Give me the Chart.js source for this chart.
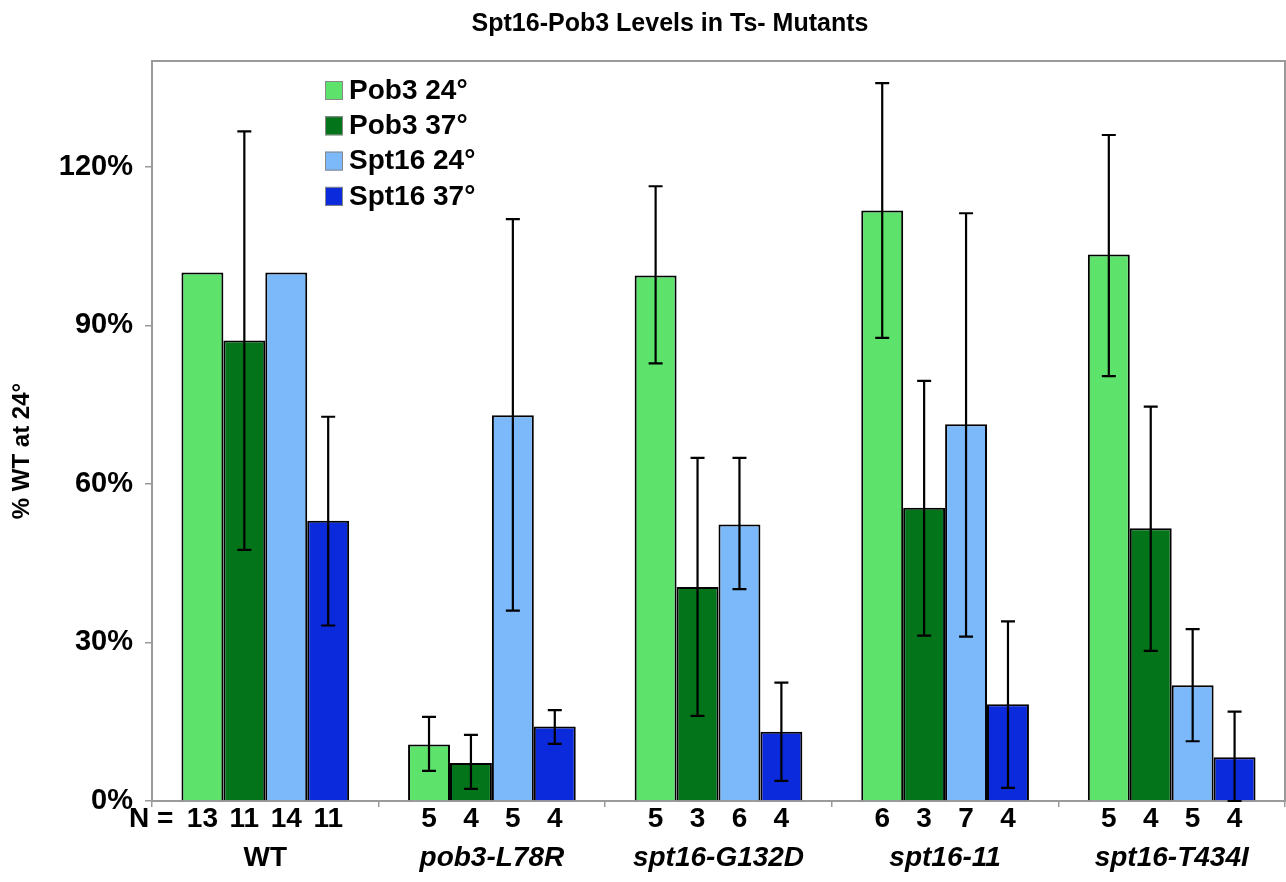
<!DOCTYPE html>
<html>
<head>
<meta charset="utf-8">
<script src="https://cdn.jsdelivr.net/npm/chart.js@4"></script>
<style>
  body { margin: 0; background: #fff; }
  #wrap { width: 1286px; height: 882px; }
</style>
</head>
<body>
<div id="wrap"><canvas id="chart"></canvas></div>
<script>
const groups = ['WT', 'pob3-L78R', 'spt16-G132D', 'spt16-11', 'spt16-T434I']
const seriesNames = ['Pob3 24°', 'Pob3 37°', 'Spt16 24°', 'Spt16 37°']
const seriesColors = ['#5de26b', '#03741a', '#7bb9fa', '#0b2adb']

// bar heights (% of WT at 24°)
const pob3_24 = [100, 10.7, 99.4, 111.7, 103.4]
const pob3_37 = [87.1, 7.2, 40.5, 55.5, 51.6]
const spt16_24 = [100, 73.0, 52.3, 71.3, 21.9]
const spt16_37 = [53.0, 14.1, 13.1, 18.3, 8.3]

// error bar ends, null where no bar is drawn
const pob3_24_lo = [null, 5.7, 82.8, 87.6, 80.4]
const pob3_24_hi = [null, 15.9, 116.3, 135.8, 126.0]
const pob3_37_lo = [47.5, 2.3, 16.1, 31.3, 28.4]
const pob3_37_hi = [126.7, 12.5, 64.9, 79.5, 74.6]
const spt16_24_lo = [null, 36.0, 40.1, 31.1, 11.3]
const spt16_24_hi = [null, 110.1, 64.9, 111.2, 32.5]
const spt16_37_lo = [33.2, 10.8, 3.8, 2.5, 0]
const spt16_37_hi = [72.7, 17.2, 22.4, 34.0, 16.9]

// N counts under each bar
const n_pob3_24 = [13, 5, 5, 6, 5]
const n_pob3_37 = [11, 4, 3, 3, 4]
const n_spt16_24 = [14, 5, 6, 7, 5]
const n_spt16_37 = [11, 4, 4, 4, 4]

const yTicks = [0, 30, 60, 90, 120]

const values = [pob3_24, pob3_37, spt16_24, spt16_37]
const lows = [pob3_24_lo, pob3_37_lo, spt16_24_lo, spt16_37_lo]
const highs = [pob3_24_hi, pob3_37_hi, spt16_24_hi, spt16_37_hi]
const counts = [n_pob3_24, n_pob3_37, n_spt16_24, n_spt16_37]

const FONT = '"Liberation Sans", Arial, Helvetica, sans-serif'

const extras = {
    id: 'extras',
    beforeDatasetsDraw(chart) {
        const c = chart.ctx
        const a = chart.chartArea
        c.save()
        c.strokeStyle = '#9a9a9a'
        c.lineWidth = 2
        c.strokeRect(a.left, a.top, a.right - a.left, a.bottom - a.top)
        c.restore()
    },
    afterDatasetsDraw(chart) {
        const c = chart.ctx
        const y = chart.scales.y
        c.save()
        c.strokeStyle = '#000'
        c.lineWidth = 2.2
        for (let d = 0; d < values.length; d++) {
            const meta = chart.getDatasetMeta(d)
            meta.data.forEach((bar, i) => {
                if (lows[d][i] == null) return
                const y1 = y.getPixelForValue(lows[d][i])
                const y2 = y.getPixelForValue(highs[d][i])
                c.beginPath()
                c.moveTo(bar.x, y1); c.lineTo(bar.x, y2)
                c.moveTo(bar.x - 7, y1); c.lineTo(bar.x + 7, y1)
                c.moveTo(bar.x - 7, y2); c.lineTo(bar.x + 7, y2)
                c.stroke()
            })
        }
        c.restore()
    },
    afterDraw(chart) {
        const c = chart.ctx
        const a = chart.chartArea
        c.save()
        c.fillStyle = '#000'

        // title
        c.font = 'bold 25px ' + FONT
        c.textAlign = 'center'
        c.textBaseline = 'middle'
        c.fillText('Spt16-Pob3 Levels in Ts- Mutants', 670, 24)

        // y axis title, sits a bit below the middle of the axis
        c.save()
        c.translate(22, 451)
        c.rotate(-Math.PI / 2)
        c.font = 'bold 24px ' + FONT
        c.fillText('% WT at 24°', 0, 0)
        c.restore()

        // N row
        c.font = 'bold 28px ' + FONT
        for (let d = 0; d < counts.length; d++) {
            const meta = chart.getDatasetMeta(d)
            meta.data.forEach((bar, i) => {
                c.fillText(String(counts[d][i]), bar.x, a.bottom + 18)
            })
        }
        c.textAlign = 'left'
        c.fillText('N =', 129, a.bottom + 18)

        // legend inside plot
        c.font = 'bold 28px ' + FONT
        c.textBaseline = 'middle'
        chart.data.datasets.forEach((ds, k) => {
            const top = 81 + k * 35.3
            c.fillStyle = ds.backgroundColor
            c.fillRect(325, top, 18, 19)
            c.strokeStyle = '#888'
            c.lineWidth = 1
            c.strokeRect(325.5, top + 0.5, 17, 18)
            c.fillStyle = '#000'
            c.fillText(ds.label, 349, top + 10)
        })
        c.restore()
    }
}

const ctx = document.getElementById('chart')

var myChart = new Chart(ctx, {
    type: 'bar',
    data: {
        labels: groups,
        datasets: seriesNames.map((name, k) => ({
            label: name,
            data: values[k],
            backgroundColor: seriesColors[k],
            borderColor: '#000',
            borderWidth: 2,
            borderSkipped: 'bottom',
            categoryPercentage: 0.74,
            barPercentage: 1.0
        }))
    },
    options: {
        responsive: true,
        maintainAspectRatio: false,
        animation: false,
        layout: {
            padding: { left: 0, right: 1, top: 61, bottom: 0 }
        },
        plugins: {
            legend: { display: false },
            title: { display: false },
            tooltip: { enabled: false }
        },
        scales: {
            x: {
                offset: true,
                grid: {
                    offset: true,
                    drawOnChartArea: false,
                    drawTicks: true,
                    tickLength: 6,
                    color: '#9a9a9a',
                    lineWidth: 1.5
                },
                border: { color: '#9a9a9a', width: 2 },
                ticks: {
                    color: '#000',
                    padding: 34,
                    maxRotation: 0,
                    autoSkip: false,
                    font: (c) => ({
                        family: FONT,
                        size: 28,
                        weight: 'bold',
                        style: c.index === 0 ? 'normal' : 'italic'
                    })
                },
                afterFit(scale) { scale.height = 81 }
            },
            y: {
                min: 0,
                max: 140,
                grid: {
                    drawOnChartArea: false,
                    tickLength: 7,
                    color: '#9a9a9a',
                    lineWidth: 1.5
                },
                border: { color: '#9a9a9a', width: 2 },
                afterBuildTicks(scale) {
                    scale.ticks = yTicks.map(v => ({ value: v }))
                },
                ticks: {
                    color: '#000',
                    padding: 12,
                    font: { family: FONT, size: 29, weight: 'bold' },
                    callback: (v) => v + '%'
                },
                title: { display: false },
                afterFit(scale) { scale.width = 152 }
            }
        }
    },
    plugins: [extras]
})
</script>
</body>
</html>
